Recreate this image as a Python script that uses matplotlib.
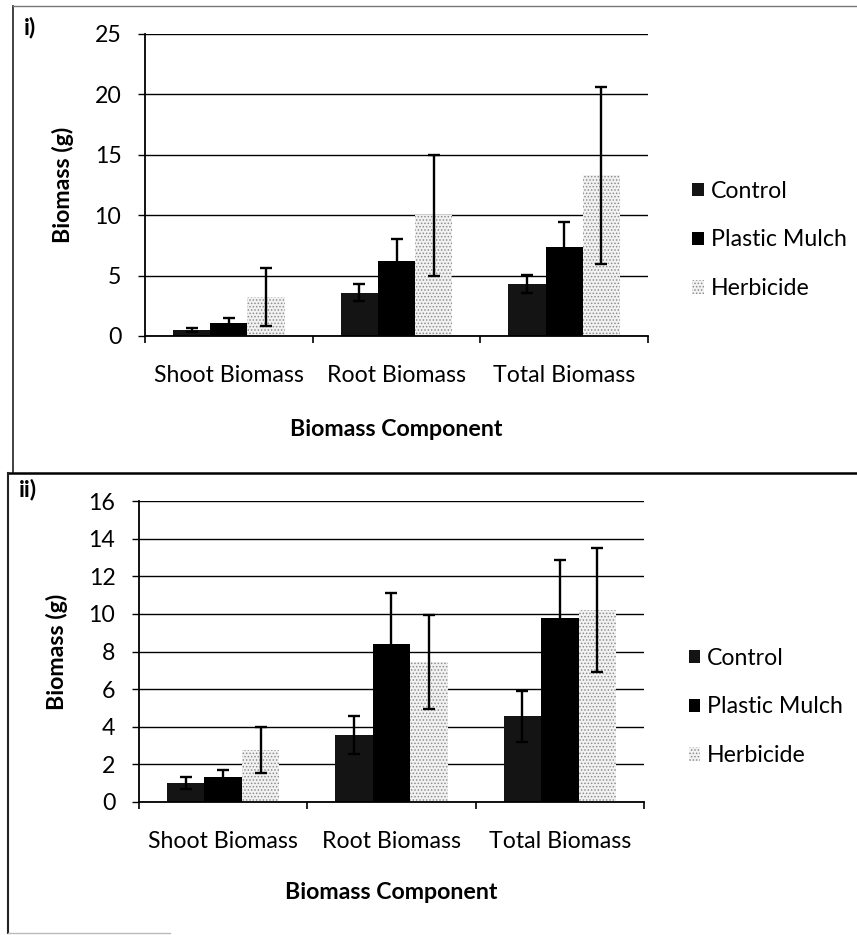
import matplotlib.pyplot as plt
import numpy as np
from matplotlib.patches import Patch
from matplotlib.lines import Line2D

plt.rcParams['font.family'] = ['Lato', 'DejaVu Sans']

components = ['Shoot Biomass', 'Root Biomass', 'Total Biomass']
treatments = ['Control', 'Plastic Mulch', 'Herbicide']

# panel i)
ctrl_i = [0.5, 3.6, 4.3]
ctrl_i_err = [0.2, 0.7, 0.75]
mulch_i = [1.1, 6.2, 7.4]
mulch_i_err = [0.35, 1.85, 2.0]
herb_i = [3.2, 10.0, 13.3]
herb_i_err = [2.4, 5.0, 7.35]

# panel ii)
ctrl_ii = [1.0, 3.55, 4.55]
ctrl_ii_err = [0.32, 1.0, 1.35]
mulch_ii = [1.35, 8.4, 9.8]
mulch_ii_err = [0.35, 2.7, 3.05]
herb_ii = [2.75, 7.45, 10.2]
herb_ii_err = [1.23, 2.5, 3.3]

W, H = 857, 935
FS = 16.7

bar_styles = [
    dict(color='#141414'),
    dict(color='black'),
    dict(color='#f2f2f2', hatch='.....', edgecolor='#8c8c8c', linewidth=0),
]

plt.rcParams['hatch.linewidth'] = 0.7


def px_axes(fig, left, top, right, bottom):
    return fig.add_axes([left / W, 1 - bottom / H, (right - left) / W, (bottom - top) / H])


def draw_panel(ax, means, errs, ymax, ystep, xlab_y, leg_y):
    x = np.arange(len(components))
    w = 0.222
    for i, (m, e, st) in enumerate(zip(means, errs, bar_styles)):
        ax.bar(x + (i - 1) * w, m, w, yerr=e, capsize=4.2, label=treatments[i],
               error_kw=dict(elinewidth=1.7, capthick=1.7, ecolor='black'), zorder=2, **st)
    ax.set_xlim(-0.5, 2.5)
    ax.set_ylim(0, ymax)
    ax.set_yticks(np.arange(0, ymax + 0.1, ystep))
    ax.yaxis.grid(True, color='black', lw=1.0)
    ax.set_axisbelow(True)
    ax.set_xticks(x)
    ax.set_xticklabels(components, fontsize=FS)
    ax.set_xticks([-0.5, 0.5, 1.5, 2.5], minor=True)
    ax.tick_params(axis='x', which='major', length=0, pad=21)
    ax.tick_params(axis='x', which='minor', length=5, width=1.2, direction='out')
    ax.tick_params(axis='y', length=5, width=1.0, pad=12, labelsize=FS)
    for s in ['top', 'right']:
        ax.spines[s].set_visible(False)
    for s in ['left', 'bottom']:
        ax.spines[s].set_linewidth(1.3)
    ax.set_ylabel('Biomass (g)', fontsize=FS, fontweight='bold', va='center')
    ax.yaxis.set_label_coords(-0.163, 0.5)
    ax.set_xlabel('Biomass Component', fontsize=FS, fontweight='bold', va='center')
    ax.xaxis.set_label_coords(0.5, xlab_y)
    ax.legend(loc='center left', bbox_to_anchor=(1.07, leg_y), frameon=False,
              fontsize=FS, handlelength=0.5, handleheight=0.5, handletextpad=0.3,
              labelspacing=1.2, borderaxespad=0)


fig = plt.figure(figsize=(W / 100, H / 100), dpi=100)

ax1 = px_axes(fig, 145, 34, 648, 336)
draw_panel(ax1, [ctrl_i, mulch_i, herb_i], [ctrl_i_err, mulch_i_err, herb_i_err],
           25, 5, -0.311, 0.318)

ax2 = px_axes(fig, 139, 501, 644, 802)
draw_panel(ax2, [ctrl_ii, mulch_ii, herb_ii], [ctrl_ii_err, mulch_ii_err, herb_ii_err],
           16, 2, -0.302, 0.316)

fig.text(24 / W, 1 - 27 / H, 'i)', fontsize=FS, fontweight='bold', va='center')
fig.text(19 / W, 1 - 490 / H, 'ii)', fontsize=FS, fontweight='bold', va='center')


# panel borders
def px_line(x0, y0, x1, y1, **kw):
    fig.add_artist(Line2D([x0 / W, x1 / W], [1 - y0 / H, 1 - y1 / H], transform=fig.transFigure, **kw))


px_line(13, 6, 13, 472, color='#333333', lw=1.3)
px_line(13, 6, W, 6, color='#777777', lw=1.0)
px_line(8, 473, W, 473, color='black', lw=1.8)
px_line(8, 473, 8, 933, color='#222222', lw=1.5)
px_line(8, 933, 170, 933, color='#bbbbbb', lw=1.0)

fig.savefig('out.png', dpi=100)
